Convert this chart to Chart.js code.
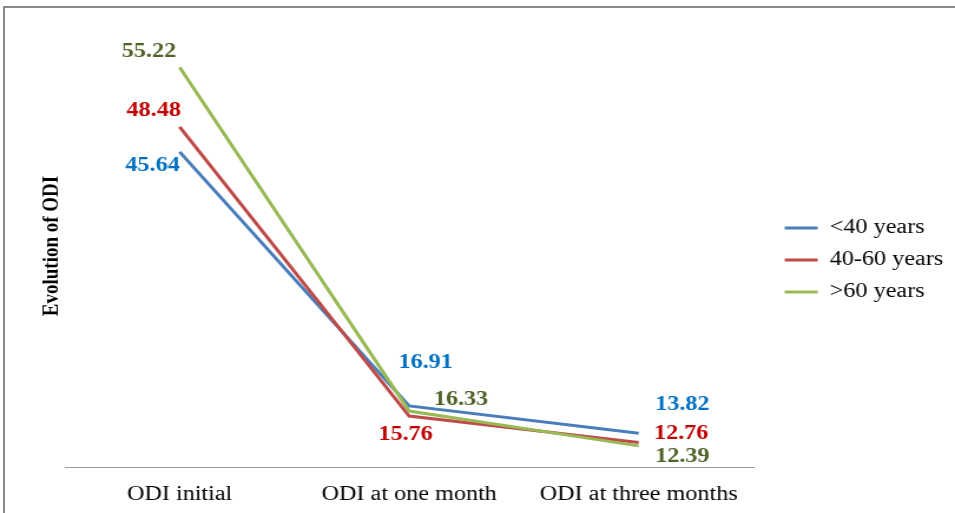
<!DOCTYPE html>
<html>
<head>
<meta charset="utf-8">
<script src="https://cdn.jsdelivr.net/npm/chart.js@4/dist/chart.umd.min.js"></script>
<style>
  html, body { margin: 0; padding: 0; background: #fff; overflow: hidden; }
  #wrap { position: relative; width: 955px; height: 513px; overflow: hidden; }
  #c { position: absolute; left: 0; top: 0; }
  #frame {
    position: absolute; left: 3px; top: 6px; right: -10px; bottom: -10px;
    border-left: 2px solid #8a8a8a; border-top: 2px solid #8a8a8a;
    pointer-events: none;
  }
</style>
</head>
<body>
<div id="wrap">
  <canvas id="c" width="810" height="513" style="width:955px;height:513px"></canvas>
  <div id="frame"></div>
</div>
<script>
// Time points on the x axis
const categories = ['ODI initial', 'ODI at one month', 'ODI at three months'];

// Age groups
const seriesNames = ['<40 years', '40-60 years', '>60 years'];

// Mean ODI per age group at each time point
const under40 = [45.64, 16.91, 13.82];
const from40to60 = [48.48, 15.76, 12.76];
const over60 = [55.22, 16.33, 12.39];

// Value axis range
const yMin = 10;
const yMax = 60;

const SERIF = '"Liberation Serif", "Times New Roman", Times, serif';
Chart.defaults.font.family = SERIF;

// Offsets of each value label from its point (canvas px)
const labelOffsets = [
  [[-23, 14], [14, -43], [37, -29]],
  [[-22, -16], [-3, 19], [36, -9]],
  [[-26, -16], [44, -11], [37, 11]]
];

const valueLabels = {
  id: 'valueLabels',
  afterDatasetsDraw(chart) {
    const ctx = chart.ctx;
    ctx.save();
    ctx.font = 'bold 20.5px ' + SERIF;
    ctx.textAlign = 'center';
    ctx.textBaseline = 'middle';
    chart.data.datasets.forEach((ds, i) => {
      const meta = chart.getDatasetMeta(i);
      ctx.fillStyle = ds.labelColor;
      meta.data.forEach((pt, j) => {
        const [dx, dy] = labelOffsets[i][j];
        ctx.fillText(ds.data[j].toFixed(2), pt.x + dx, pt.y + dy);
      });
    });
    ctx.restore();
  }
};

function series(name, values, color, labelColor, order) {
  return {
    label: name,
    data: values,
    borderColor: color,
    backgroundColor: color,
    borderWidth: 3,
    pointRadius: 0,
    pointHoverRadius: 0,
    tension: 0,
    fill: false,
    order: order,
    labelColor: labelColor
  };
}

new Chart(document.getElementById('c'), {
  type: 'line',
  data: {
    labels: categories,
    datasets: [
      series(seriesNames[0], under40, '#4A7EBB', '#0070C0', 2),
      series(seriesNames[1], from40to60, '#BE4B48', '#C00000', 1),
      series(seriesNames[2], over60, '#98B954', '#4F6228', 0)
    ]
  },
  options: {
    responsive: false,
    animation: false,
    devicePixelRatio: 1,
    layout: { padding: { top: 25, right: 0, bottom: 0, left: 0 } },
    plugins: {
      legend: {
        position: 'right',
        fullSize: false,
        maxWidth: 220,
        title: { display: true, text: ' ', font: { size: 10, lineHeight: 1.2 }, padding: { top: 8, bottom: 8 } },
        labels: {
          usePointStyle: true,
          pointStyle: 'line',
          pointStyleWidth: 28,
          padding: 11.5,
          color: '#000',
          font: { size: 20.5 },
          sort: (a, b) => a.datasetIndex - b.datasetIndex
        }
      },
      tooltip: { enabled: false }
    },
    scales: {
      x: {
        offset: true,
        grid: { display: false, drawTicks: false },
        border: { display: true, color: '#9a9a9a', width: 1 },
        ticks: { color: '#000', font: { size: 20.5 }, padding: 15, maxRotation: 0 },
        afterFit(s) { s.height = 46; }
      },
      y: {
        min: yMin,
        max: yMax,
        grid: { display: false, drawTicks: false },
        border: { display: false },
        ticks: { display: false },
        title: {
          display: true,
          text: 'Evolution of ODI',
          color: '#000',
          font: { size: 19, weight: 'bold' },
          padding: { top: 33, bottom: 0 }
        },
        afterFit(s) { s.width = 55; }
      },
      gap: {
        type: 'linear',
        position: 'right',
        display: true,
        grid: { display: false, drawTicks: false },
        border: { display: false },
        ticks: { display: false },
        afterFit(s) { s.width = 15; }
      }
    }
  },
  plugins: [valueLabels]
});
</script>
</body>
</html>
